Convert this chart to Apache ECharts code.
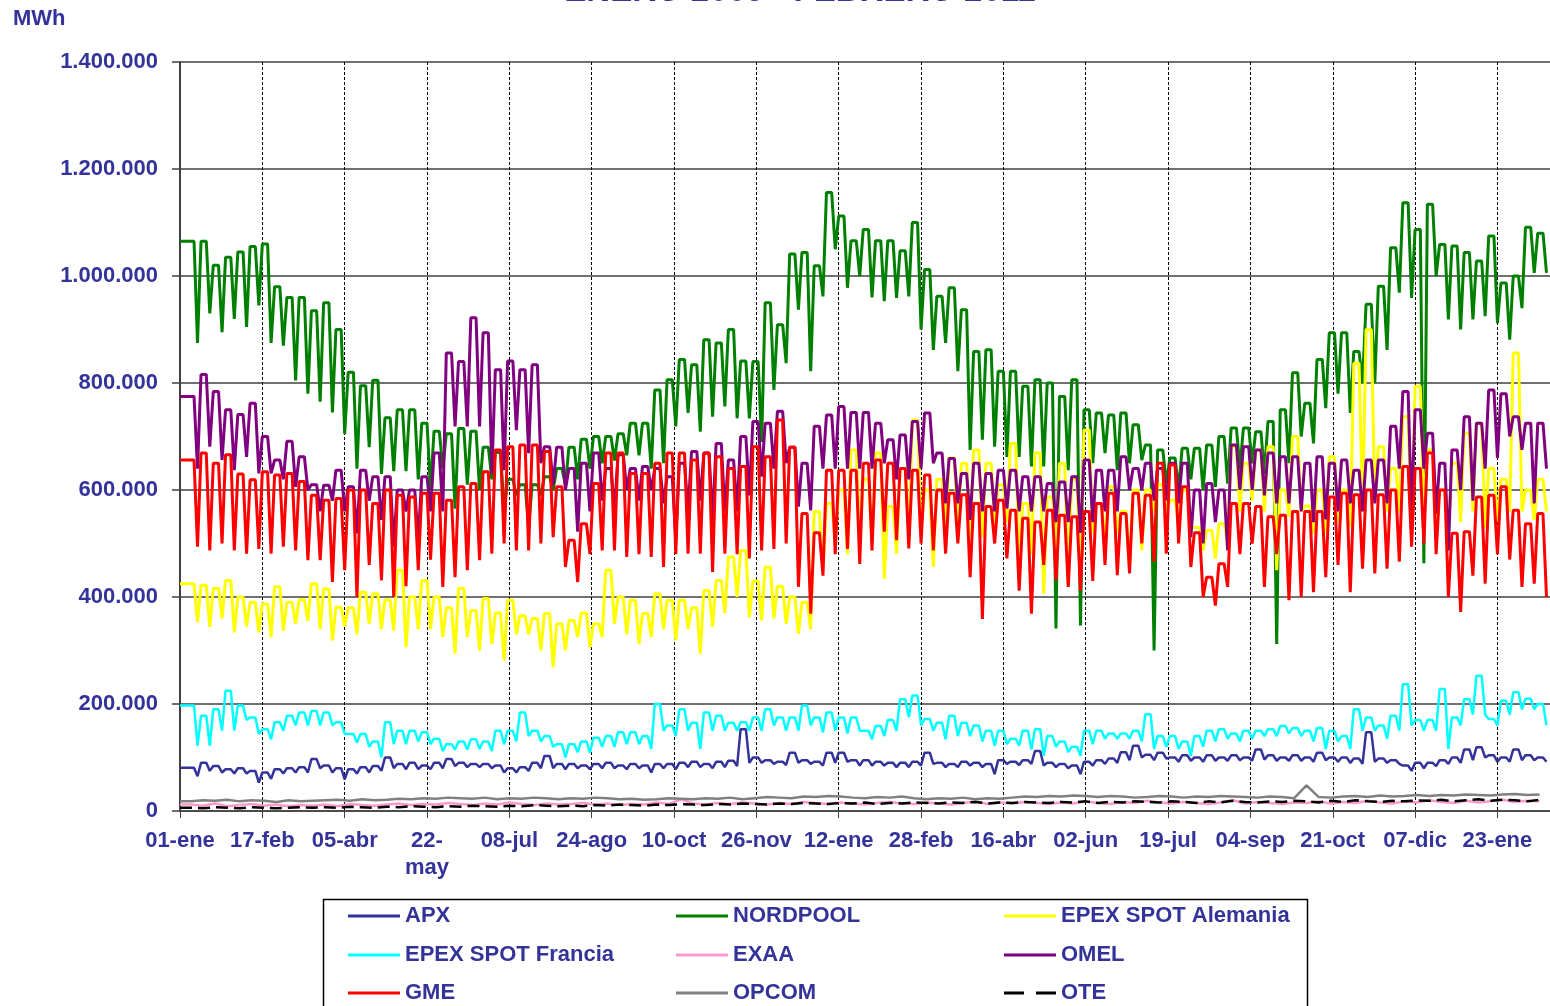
<!DOCTYPE html>
<html><head><meta charset="utf-8">
<script src="https://cdn.jsdelivr.net/npm/echarts@6/dist/echarts.min.js"></script>
<style>html,body{margin:0;padding:0;background:#fff}#c{width:1550px;height:1006px}</style>
</head><body><div id="c"></div><script>
// Day 0 = 01-ene-2009; ticks every 47 days
const xTickLabels = ['01-ene','17-feb','05-abr','22-\nmay','08-jul','24-ago','10-oct','26-nov','12-ene','28-feb','16-abr','02-jun','19-jul','04-sep','21-oct','07-dic','23-ene'];
const yTickLabels = ['0','200.000','400.000','600.000','800.000','1.000.000','1.200.000','1.400.000'];
// legend grid: columns x rows
const legendColumns = [['APX','EPEX SPOT Francia','GME'], ['NORDPOOL','EXAA','OPCOM'], ['EPEX SPOT Alemania','OMEL','OTE']];

// weekly values, thousands of MWh (weekday level "Hi" and Sunday level "Lo"), week 0 = 05-ene-2009
const apxHi = [81,90,84,78,80,75,72,78,80,82, 97,85,80,78,82,84,100,88,90,85, 90,97,90,88,88,85,80,82,90,103, 88,88,85,88,90,85,88,85,88,88, 90,92,88,92,94,153,100,95,92,109, 95,92,109,109,95,95,92,90,90,92, 109,90,88,92,90,88,95,92,95,112, 90,88,85,92,95,98,110,122,105,109, 100,104,100,104,100,104,100,115,104,100, 104,100,109,100,100,98,147,98,95,85, 90,90,95,100,115,119,104,100,115,104,100];
const apxLo = [65,75,72,70,70,53,60,70,72,72, 80,72,59,70,72,75,80,78,78,78, 80,84,82,82,80,72,72,75,80,80, 78,80,78,80,80,78,80,72,80,78, 82,82,80,82,84,90,90,88,86,90, 88,85,90,92,85,85,85,82,82,85, 88,82,82,85,82,69,88,86,88,85, 82,80,69,85,88,90,95,100,95,98, 92,94,92,94,94,95,94,96,94,94, 94,92,95,92,90,88,92,90,88,75, 80,84,88,90,95,100,92,92,95,95,92];
const nordpoolHi = [1065,1065,1020,1035,1045,1055,1060,980,960,960, 935,950,900,820,795,805,735,750,750,725, 710,705,715,710,680,670,620,610,610,625, 640,680,695,700,700,705,725,725,787,806, 844,834,881,875,900,841,840,950,909,1041, 1044,1019,1156,1112,1066,1087,1066,1066,1047,1100, 1012,962,978,937,859,862,822,822,794,806, 800,775,806,750,744,740,744,722,684,675, 660,678,678,684,700,716,716,709,728,750, 819,762,844,894,894,859,947,981,1053,1137, 1087,1134,1059,1056,1044,1028,1075,987,1000,1091,1080];
const nordpoolLo = [875,930,895,920,905,945,875,870,805,780, 765,745,705,640,680,630,635,635,620,600, 640,565,610,600,620,560,590,530,590,600, 610,620,640,650,655,665,665,640,650,719, 744,709,737,756,734,734,690,787,837,937, 822,962,1050,978,1000,960,953,959,962,900, 862,875,822,675,694,681,662,662,644,644, 341,637,347,650,669,637,650,656,300,612, 600,620,600,606,612,640,650,630,312,650, 700,687,753,780,744,800,800,862,969,959, 463,1000,919,900,919,925,912,881,940,1006,1006];
const alemaniaHi = [425,422,416,431,400,390,387,419,390,395, 425,415,381,380,409,406,395,450,400,431, 400,380,416,375,397,370,394,365,360,369, 350,356,370,350,450,400,394,369,406,394, 394,380,412,431,475,487,430,456,420,400, 390,560,575,600,675,620,669,569,640,731, 600,620,660,650,675,650,610,687,575,669, 587,650,620,712,575,606,560,600,600,610, 581,600,530,525,537,681,650,675,681,600, 700,570,600,662,600,837,900,681,640,737, 794,675,600,650,706,725,640,620,856,600,620];
const alemaniaLo = [353,344,360,334,345,334,325,337,350,355, 340,319,345,330,350,340,337,306,340,340, 325,294,325,300,312,281,330,330,300,269, 300,325,306,325,350,330,312,325,340,319, 340,294,344,370,400,362,356,360,350,331, 340,450,500,480,520,500,434,481,500,520, 456,525,525,512,512,537,540,450,480,406, 475,420,440,520,500,520,456,487,560,560, 537,530,487,472,500,560,580,560,450,550, 560,519,520,540,531,560,580,560,560,530, 560,550,520,540,560,530,540,560,560,544,560];
const franciaHi = [197,178,190,225,197,175,153,166,178,184, 187,184,166,144,144,130,166,150,150,147, 135,125,130,134,130,150,150,184,150,140, 125,125,130,137,140,147,147,140,200,160, 190,165,184,178,165,166,175,190,175,175, 197,175,184,175,175,150,159,170,209,216, 172,165,178,165,160,150,150,135,150,153, 140,130,120,150,150,145,145,150,181,140, 140,130,140,150,153,145,150,150,153,159, 155,150,155,150,140,190,175,160,178,237, 170,170,228,175,209,253,172,206,222,210,200];
const franciaLo = [122,122,150,150,170,144,134,150,160,160, 160,160,144,128,120,100,125,125,130,125, 112,115,115,116,112,125,130,140,130,120, 100,110,109,120,120,125,125,116,150,140, 150,116,150,150,150,150,150,160,150,150, 160,147,150,145,150,134,140,150,175,160, 150,134,140,140,130,122,125,122,115,103, 120,110,103,125,135,135,135,130,116,120, 116,103,120,130,135,130,135,140,140,145, 140,130,116,130,116,150,150,135,150,160, 150,150,116,160,180,180,160,180,190,190,160];
const omelHi = [775,816,784,750,741,762,700,656,691,662, 610,609,637,606,637,625,625,600,600,625, 669,856,840,922,894,825,841,825,834,681, 680,640,650,669,640,666,640,644,640,625, 650,672,669,687,656,700,728,725,747,680, 650,719,740,756,745,745,725,694,703,728, 744,669,659,631,650,631,637,637,625,625, 612,615,625,656,637,637,662,640,650,640, 650,650,600,612,600,684,681,675,669,662, 662,650,662,650,656,637,656,656,719,784, 750,706,650,675,737,725,787,780,737,725,725];
const omelLo = [640,681,656,637,662,631,631,620,606,600, 560,580,560,519,580,544,494,560,506,560, 560,719,719,719,631,637,712,669,650,609, 600,522,560,580,560,600,580,600,575,506, 560,580,540,560,560,590,625,640,650,569, 562,640,640,640,640,640,650,620,620,640, 650,575,575,544,560,560,565,560,560,560, 540,540,520,540,560,560,600,600,580,580, 575,512,500,540,487,600,600,590,575,575, 560,540,545,560,575,560,575,575,640,560, 640,556,487,600,580,640,660,700,675,575,640];
const gmeHi = [656,669,650,666,630,619,634,628,631,616, 590,581,584,600,600,575,600,590,587,594, 594,581,606,612,634,675,681,684,684,672, 606,506,537,612,669,669,631,631,650,669, 669,656,669,662,640,644,681,662,731,680, 556,520,637,637,637,650,656,650,640,637, 628,600,594,591,575,569,581,562,547,540, 562,553,550,560,575,594,556,594,590,650, 647,606,520,437,462,575,575,569,550,553, 560,560,560,587,594,591,600,591,600,644, 640,669,600,519,522,587,590,606,562,537,556];
const gmeLo = [494,487,500,487,481,490,481,494,487,469, 469,428,450,400,460,431,400,420,450,470, 419,437,450,469,481,500,487,487,500,512, 456,428,480,487,487,475,480,475,456,480, 481,481,447,481,480,472,487,490,500,419, 369,440,480,490,462,487,522,506,491,500, 487,481,500,437,359,500,472,412,369,460, 431,419,412,430,460,441,444,500,466,481, 500,456,400,384,419,480,500,419,480,394, 400,409,437,460,409,453,444,453,466,494, 500,480,400,372,440,425,480,470,419,425,400];
// weekly single values for the small markets
const exaaWeek = [12,10,14,9,11,13,10,12,9,11,10, 12,9,13,11,10,12,14,11,13,12, 15,13,11,14,12,16,13,11,14,12, 13,15,12,14,11,13,12,16,13,22, 14,12,15,13,16,14,12,15,13,17, 15,13,16,14,12,15,17,14,13,16, 14,12,15,18,13,16,14,17,15,13, 16,14,18,15,13,17,15,19,16,14, 17,15,13,16,20,14,17,15,13,16, 15,18,14,17,15,19,16,14,18,16, 20,17,15,19,16,18,21,17,19,18];
const opcomWeek = [18,20,19,21,18,20,19,17,20,18,19, 20,21,19,22,20,21,23,22,24,23, 25,24,23,25,22,24,23,25,24,22, 24,23,25,24,22,23,21,22,24,23, 22,24,23,25,22,24,26,25,24,27, 26,28,27,25,24,26,25,27,24,22, 24,23,25,22,24,23,25,27,26,28, 27,29,28,26,28,27,25,26,28,27, 25,27,26,28,27,26,25,27,26,24, 48,26,25,27,28,26,29,27,28,30, 28,30,29,31,30,29,31,32,30,31];
const oteWeek = [6,5,7,6,5,7,6,5,6,7,6, 7,6,8,7,6,8,7,9,8,7, 9,8,10,9,8,10,9,11,10,9, 10,9,11,10,12,11,10,12,11,13, 12,11,13,12,14,13,12,14,13,15, 14,13,15,14,16,13,15,14,16,15, 14,16,15,17,14,16,15,17,16,15, 17,16,18,15,17,16,18,17,16,18, 17,15,18,16,19,17,16,18,17,19, 18,16,19,17,20,18,17,19,18,20, 19,21,18,20,22,19,21,20,18,21];

function weekPts(hi, lo) {
  const pts = [[0, hi[0]]];
  const n = Math.min(hi.length, lo.length);
  for (let w = 0; w < n; w++) {
    pts.push([7*w+5, hi[w]], [7*w+8, hi[w]], [7*w+10, lo[w]]);
  }
  return pts;
}
function weekSingle(v) {
  const pts = [[0, v[0]]];
  for (let w = 0; w < v.length; w++) pts.push([7*w+6, v[w]]);
  return pts;
}

const BLUE = '#333399';
const FONT = '"Liberation Sans", Arial, sans-serif';
function ln(name, color, data, width, type) {
  return {
    name, type: 'line', data, symbol: 'none', showSymbol: false,
    lineStyle: {color, width: width, type: type || 'solid'}, itemStyle: {color},
    emphasis: {disabled: true}, animation: false, clip: true
  };
}

const legendLefts = [348, 676, 1004];
const legendRowCenters = [916, 955, 993];
const legends = [];
legendColumns.forEach((col, ci) => col.forEach((name, ri) => {
  legends.push({
    left: legendLefts[ci], top: legendRowCenters[ri] - 11, orient: 'horizontal',
    data: [name], selectedMode: false, padding: 0,
    icon: name === 'OTE' ? 'path://M0,0H20V3H0Z M32,0H52V3H32Z' : 'rect',
    itemWidth: 52, itemHeight: 3, symbolKeepAspect: false,
    textStyle: {color: BLUE, fontSize: 22, fontWeight: 'bold', fontFamily: FONT, lineHeight: 22}
  });
}));

const chart = echarts.init(document.getElementById('c'), null, {renderer: 'canvas'});
chart.setOption({
  animation: false,
  backgroundColor: '#fff',
  grid: {left: 180, top: 62, right: 0, bottom: 195, containLabel: false},
  graphic: [
    {type: 'text', x: 800, y: 8, style: {text: 'ENERO 2009 - FEBRERO 2011', fill: BLUE, font: 'bold 33px ' + FONT, textAlign: 'center', textVerticalAlign: 'bottom'}},
    {type: 'text', x: 13, y: 19, style: {text: 'MWh', fill: BLUE, font: 'bold 22px ' + FONT, textAlign: 'left', textVerticalAlign: 'middle'}},
    {type: 'rect', shape: {x: 323.5, y: 899.5, width: 984, height: 140}, style: {fill: 'none', stroke: '#000', lineWidth: 1.5}, z: 10}
  ],
  legend: legends,
  xAxis: {
    type: 'value', min: 0, max: 782, interval: 47,
    axisLine: {show: true, onZero: false, lineStyle: {color: '#404040', width: 1.5}},
    axisTick: {show: true, inside: false, length: 7, lineStyle: {color: '#404040', width: 1}},
    axisLabel: {
      margin: 16, color: BLUE, fontSize: 22, fontWeight: 'bold', fontFamily: FONT, lineHeight: 27,
      showMaxLabel: false, hideOverlap: false,
      formatter: v => (v % 47 === 0 && xTickLabels[v/47] !== undefined) ? xTickLabels[v/47] : ''
    },
    splitLine: {show: true, lineStyle: {color: '#000', width: 1, type: [3, 2]}}
  },
  yAxis: {
    type: 'value', min: 0, max: 1400, interval: 200,
    axisLine: {show: true, lineStyle: {color: '#404040', width: 2}},
    axisTick: {show: true, inside: false, length: 8, lineStyle: {color: '#404040', width: 1.5}},
    axisLabel: {
      margin: 22, color: BLUE, fontSize: 22, fontWeight: 'bold', fontFamily: FONT,
      formatter: v => yTickLabels[Math.round(v/200)] || ''
    },
    splitLine: {show: true, lineStyle: {color: '#404040', width: 1.5}}
  },
  series: [
    ln('APX', BLUE, weekPts(apxHi, apxLo), 2.5),
    ln('NORDPOOL', '#008000', weekPts(nordpoolHi, nordpoolLo), 3),
    ln('EPEX SPOT Alemania', '#FFFF00', weekPts(alemaniaHi, alemaniaLo), 3),
    ln('EPEX SPOT Francia', '#00FFFF', weekPts(franciaHi, franciaLo), 2.5),
    ln('EXAA', '#FF99CC', weekSingle(exaaWeek), 2.5),
    ln('OMEL', '#800080', weekPts(omelHi, omelLo), 3),
    ln('GME', '#FF0000', weekPts(gmeHi, gmeLo), 3),
    ln('OPCOM', '#808080', weekSingle(opcomWeek), 2.5),
    ln('OTE', '#000000', weekSingle(oteWeek), 2.5, [12, 6])
  ]
});
</script></body></html>
